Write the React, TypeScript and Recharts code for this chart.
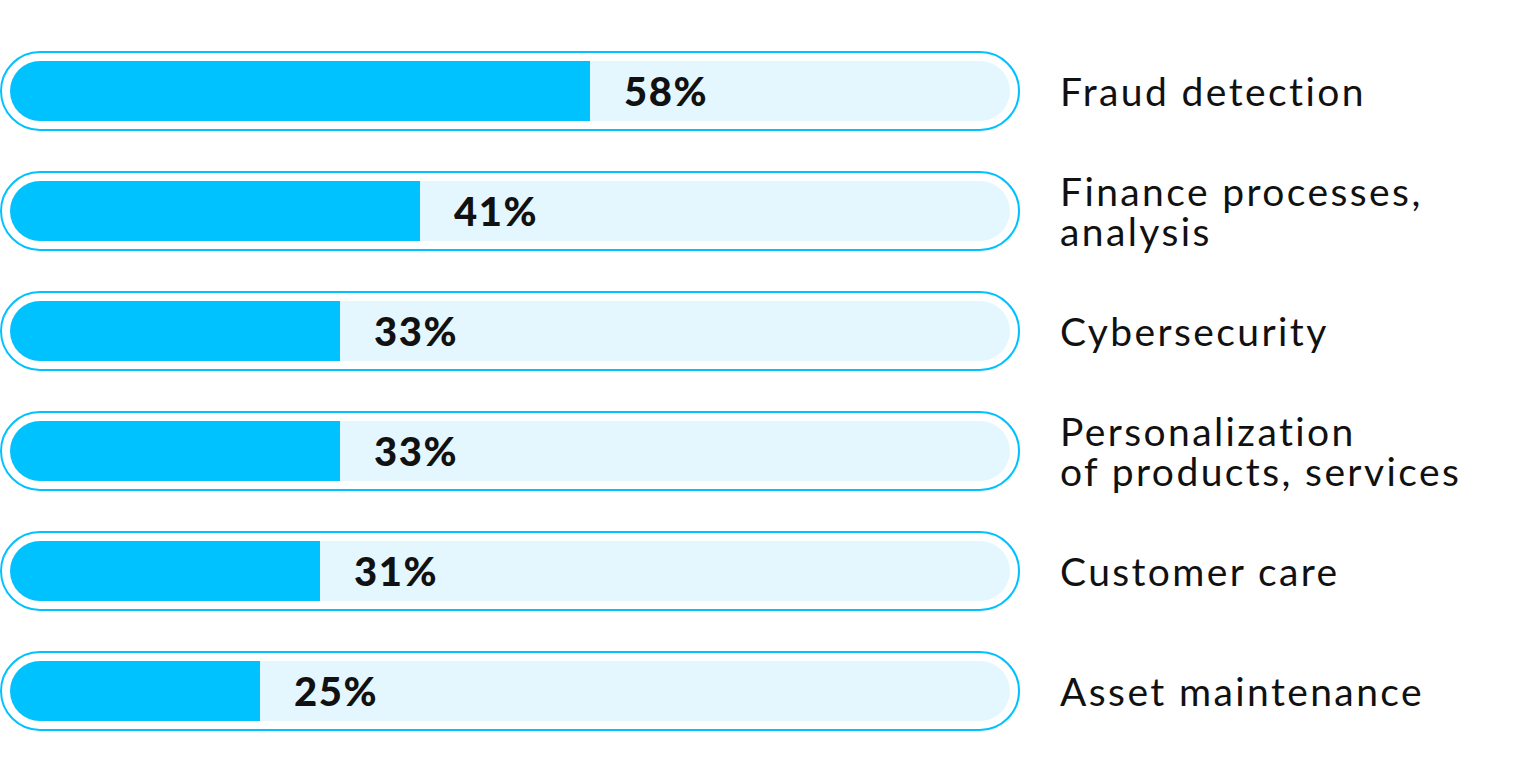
import { BarChart, Bar, XAxis, YAxis, LabelList } from "recharts";

const CATEGORIES = [
  "Fraud detection",
  "Finance processes,\nanalysis",
  "Cybersecurity",
  "Personalization\nof products, services",
  "Customer care",
  "Asset maintenance",
];

const VALUES = [58, 41, 33, 33, 31, 25];

const CYAN = "#00C2FF";
const TRACK = "#E5F7FE";
const TEXT = "#111111";
const FONT = "Lato, 'Open Sans', sans-serif";

const data = CATEGORIES.map((name, i) => ({ name, value: VALUES[i] }));

// outer pill outline + light track behind each bar
function PillBackground(props: any) {
  const { x, y, width, height } = props;
  const pad = 9;
  return (
    <g>
      <rect
        x={x - pad}
        y={y - pad}
        width={width + pad * 2}
        height={height + pad * 2}
        rx={(height + pad * 2) / 2}
        fill="#fff"
        stroke={CYAN}
        strokeWidth={2}
      />
      <rect x={x} y={y} width={width} height={height} rx={height / 2} fill={TRACK} />
    </g>
  );
}

function ValueLabel(props: any) {
  const { x, y, width, height, value } = props;
  return (
    <text
      x={x + width + 34}
      y={y + height / 2 + 15}
      fill={TEXT}
      fontFamily={FONT}
      fontWeight={900}
      fontSize={40}
      letterSpacing={1.5}
    >
      {value}%
    </text>
  );
}

function CategoryTick(props: any) {
  const { x, y, payload } = props;
  const lines = String(payload.value).split("\n");
  const first = lines.length > 1 ? y - 5 : y + 15;
  return (
    <text
      x={x}
      y={first}
      fill={TEXT}
      fontFamily={FONT}
      fontSize={39}
      fontWeight={400}
      letterSpacing={2.4}
      textAnchor="start"
    >
      {lines.map((line, i) => (
        <tspan key={i} x={x} dy={i === 0 ? 0 : 40}>
          {line}
        </tspan>
      ))}
    </text>
  );
}

export default function App() {
  return (
    <div style={{ position: "absolute", left: 0, top: 0, background: "#fff" }}>
      <BarChart
        width={1529}
        height={776}
        data={data}
        layout="vertical"
        margin={{ top: 31, right: 0, bottom: 25, left: 10 }}
        barSize={60}
      >
        <XAxis type="number" domain={[0, 100]} hide />
        <YAxis
          type="category"
          dataKey="name"
          orientation="right"
          width={519}
          axisLine={false}
          tickLine={false}
          tickSize={0}
          tickMargin={50}
          tick={<CategoryTick />}
          interval={0}
        />
        <Bar
          dataKey="value"
          fill={CYAN}
          radius={[30, 0, 0, 30]}
          background={<PillBackground />}
          isAnimationActive={false}
        >
          <LabelList dataKey="value" content={<ValueLabel />} />
        </Bar>
      </BarChart>
    </div>
  );
}
